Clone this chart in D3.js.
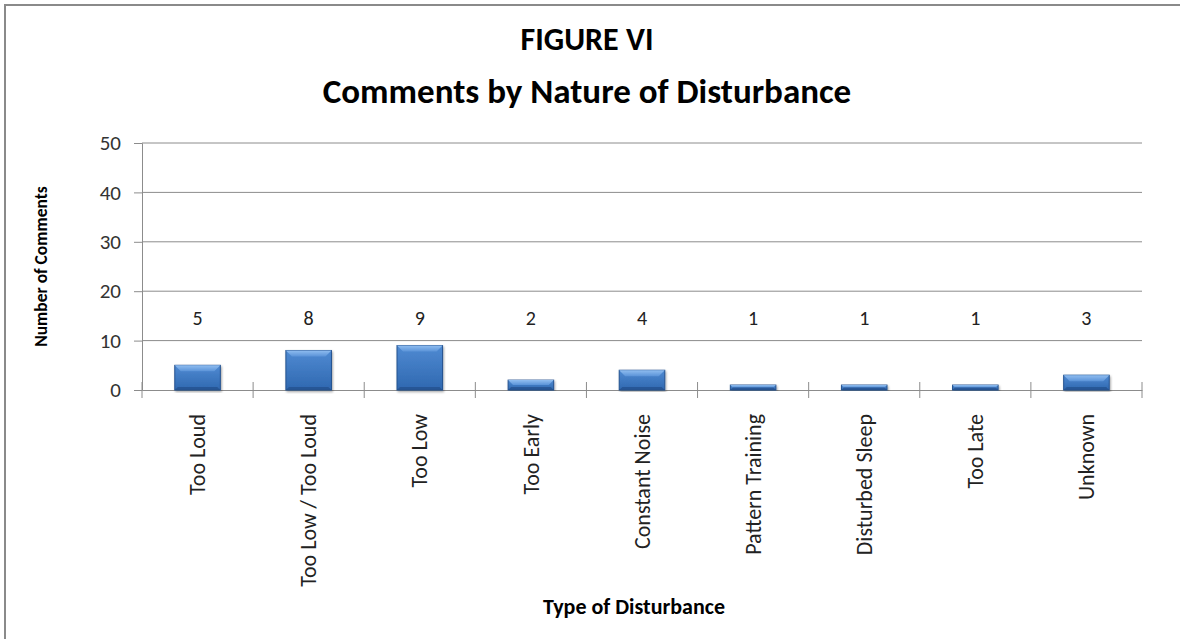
<!DOCTYPE html>
<html>
<head>
<meta charset="utf-8">
<script src="https://cdn.jsdelivr.net/npm/d3@7"></script>
<style>
  body { margin: 0; background: #fff; }
  svg { display: block; font-family: Carlito, Lato, "Open Sans", sans-serif; }
</style>
</head>
<body>
<div id="chart"></div>
<script>
// categories and comment counts
const categories = ["Too Loud", "Too Low / Too Loud", "Too Low", "Too Early", "Constant Noise",
  "Pattern Training", "Disturbed Sleep", "Too Late", "Unknown"];
const counts = [5, 8, 9, 2, 4, 1, 1, 1, 3];
const yTicks = [0, 10, 20, 30, 40, 50];

const W = 1180, H = 639;
const margin = { top: 143, right: 38, bottom: 249, left: 142 };
const width = W - margin.left - margin.right;
const height = H - margin.top - margin.bottom;
const FONT = "Carlito, Lato, 'Open Sans', sans-serif";

const svg = d3.select("#chart").append("svg")
  .attr("width", W).attr("height", H);

// page frame (top + left edges only visible)
svg.append("path")
  .attr("d", `M5,${H} V5 H${W}`)
  .attr("fill", "none").attr("stroke", "#8a8a8a").attr("stroke-width", 2);

const defs = svg.append("defs");
const grad = defs.append("linearGradient").attr("id", "barGrad")
  .attr("x1", 0).attr("y1", 0).attr("x2", 0).attr("y2", 1);
grad.append("stop").attr("offset", "0%").attr("stop-color", "#4f8ad2");
grad.append("stop").attr("offset", "100%").attr("stop-color", "#2f68b0");
const topGrad = defs.append("linearGradient").attr("id", "topGrad")
  .attr("x1", 0).attr("y1", 0).attr("x2", 0).attr("y2", 1);
topGrad.append("stop").attr("offset", "0%").attr("stop-color", "#8fbdf0");
topGrad.append("stop").attr("offset", "100%").attr("stop-color", "#5b93d8");
defs.append("filter").attr("id", "shadow")
  .append("feDropShadow").attr("dx", 1).attr("dy", 1.5).attr("stdDeviation", 1.2)
  .attr("flood-color", "#000").attr("flood-opacity", 0.35);

const g = svg.append("g").attr("transform", `translate(${margin.left},${margin.top})`);

const x = d3.scaleBand().domain(categories).range([0, width]).paddingInner(0.59).paddingOuter(0.295);
const band = d3.scaleBand().domain(categories).range([0, width]);
const y = d3.scaleLinear().domain([0, 50]).range([height, 0]);

// gridlines
g.append("g")
  .selectAll("line").data(yTicks.filter(d => d > 0)).join("line")
  .attr("x1", 0).attr("x2", width)
  .attr("y1", d => y(d)).attr("y2", d => y(d))
  .attr("stroke", "#8c8c8c").attr("stroke-width", 1);

// y axis
const yAxis = g.append("g")
  .call(d3.axisLeft(y).tickValues(yTicks).tickSize(8).tickPadding(13));
yAxis.attr("font-size", 21).attr("font-family", FONT);
yAxis.select(".domain").attr("stroke", "#8c8c8c");
yAxis.selectAll(".tick line").attr("stroke", "#8c8c8c");
yAxis.selectAll("text").attr("fill", "#333");

// x axis
const xAxis = g.append("g").attr("transform", `translate(0,${height})`)
  .call(d3.axisBottom(band).tickSize(0).tickPadding(0));
xAxis.attr("font-size", 22).attr("font-family", FONT);
xAxis.select(".domain").attr("stroke", "#8c8c8c");
xAxis.selectAll("text")
  .attr("fill", "#222")
  .attr("transform", "rotate(-90)")
  .attr("text-anchor", "end")
  .attr("x", -24).attr("y", 0).attr("dy", "0.35em");
// category separators
g.append("g").selectAll("line").data(d3.range(categories.length + 1)).join("line")
  .attr("x1", i => i * band.bandwidth()).attr("x2", i => i * band.bandwidth())
  .attr("y1", height - 8).attr("y2", height + 8)
  .attr("stroke", "#8c8c8c");

// bars
const bars = g.append("g").selectAll("g").data(categories).join("g")
  .attr("filter", "url(#shadow)");
bars.append("rect")
  .attr("x", d => x(d)).attr("width", x.bandwidth())
  .attr("y", (d, i) => y(counts[i])).attr("height", (d, i) => y(0) - y(counts[i]))
  .attr("fill", "url(#barGrad)").attr("stroke", "#24528f").attr("stroke-width", 1);
// top bevel
bars.append("path")
  .attr("d", (d, i) => {
    const x0 = x(d), x1 = x0 + x.bandwidth(), t = y(counts[i]);
    const h = y(0) - t, b = Math.min(6, h / 2);
    return `M${x0},${t} H${x1} L${x1 - b},${t + b} H${x0 + b} Z`;
  })
  .attr("fill", "url(#topGrad)");
// bottom bevel
bars.append("path")
  .attr("d", (d, i) => {
    const x0 = x(d), x1 = x0 + x.bandwidth(), t = y(counts[i]);
    const h = y(0) - t, b = Math.min(3, h / 2);
    return `M${x0},${y(0)} H${x1} L${x1 - b},${y(0) - b} H${x0 + b} Z`;
  })
  .attr("fill", "#244f8a").attr("opacity", 0.7);

// value labels (all drawn at one height)
g.append("g").selectAll("text").data(categories).join("text")
  .attr("x", d => x(d) + x.bandwidth() / 2)
  .attr("y", y(15) + 9)
  .attr("text-anchor", "middle")
  .attr("font-size", 20).attr("fill", "#222")
  .text((d, i) => counts[i]);

// titles
svg.append("text").attr("x", 587).attr("y", 50).attr("text-anchor", "middle")
  .attr("font-size", 32).attr("font-weight", "bold").attr("fill", "#000")
  .text("FIGURE VI");
svg.append("text").attr("x", 587).attr("y", 103).attr("text-anchor", "middle")
  .attr("font-size", 35).attr("font-weight", "bold").attr("fill", "#000")
  .text("Comments by Nature of Disturbance");

svg.append("text")
  .attr("transform", `translate(47,${margin.top + height / 2}) rotate(-90)`)
  .attr("text-anchor", "middle")
  .attr("font-size", 17.5).attr("font-weight", "bold").attr("fill", "#000")
  .text("Number of Comments");

svg.append("text").attr("x", 634).attr("y", 614).attr("text-anchor", "middle")
  .attr("font-size", 22).attr("font-weight", "bold").attr("fill", "#000")
  .text("Type of Disturbance");
</script>
</body>
</html>
